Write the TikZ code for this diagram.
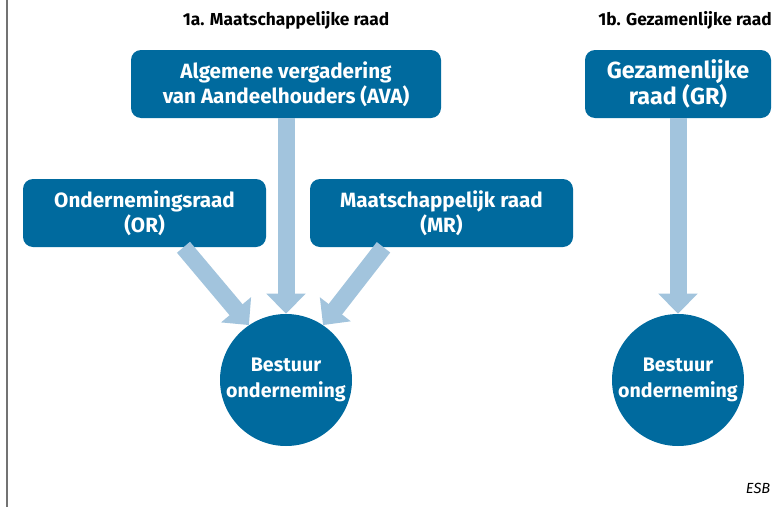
\documentclass[tikz,border=0pt]{standalone}
\usepackage{fontspec}
\setmainfont{Fira Sans}
\usetikzlibrary{positioning,arrows.meta,calc}
\definecolor{esbblue}{HTML}{006A9E}
\definecolor{esblight}{HTML}{A2C4DD}

\begin{document}
\begin{tikzpicture}[
  x=0.75pt, y=-0.75pt,
  box/.style={fill=esbblue, text=white, rounded corners=7.5pt, align=center, minimum height=51pt, inner sep=2pt, font=\fontsize{15.5}{19}\selectfont\bfseries},
  board/.style={circle, fill=esbblue, text=white, align=center, minimum size=99pt, inner sep=0pt, font=\fontsize{14.7}{19}\selectfont\bfseries},
  arr/.style={draw=esblight, line width=12.75pt, -{Triangle[width=28.5pt,length=15pt]}},
  title/.style={font=\fontsize{13}{15}\selectfont\bfseries}
]
\useasboundingbox (0,0) rectangle (779,507);
\draw[gray!90!black, line width=1.5pt] (7,0) -- (7,507);

% 1a
\node[title] (ta) at (286,20) {1a. Maatschappelijke raad};
\node[box, minimum width=232.5pt] (ava) at (286,84) {Algemene vergadering\\van Aandeelhouders (AVA)};
\node[box, minimum width=182.25pt] (or) at (144.5,213) {Ondernemingsraad\\(OR)};
\node[box, minimum width=197.25pt] (mr) at (441.5,213) {Maatschappelijk raad\\(MR)};
\node[board] (besta) at (286,380) {Bestuur\\onderneming};

\draw[arr] (ava) -- (besta);
\draw[arr] ($(or.south west)!0.66!(or.south east)$) -- (besta.124);
\draw[arr] ($(mr.south west)!0.28!(mr.south east)$) -- (besta.56);

% 1b
\node[title] (tb) at (685,20) {1b. Gezamenlijke raad};
\node[box, minimum width=139.5pt, font=\fontsize{17.5}{19.5}\selectfont\bfseries] (gr) at (678,84) {Gezamenlijke\\raad (GR)};
\node[board] (bestb) at (678,380) {Bestuur\\onderneming};

\draw[arr] (gr) -- (bestb);

\node[font=\fontsize{11}{13}\selectfont\itshape, anchor=east] (esb) at (775,488) {ESB};
\end{tikzpicture}
\end{document}
